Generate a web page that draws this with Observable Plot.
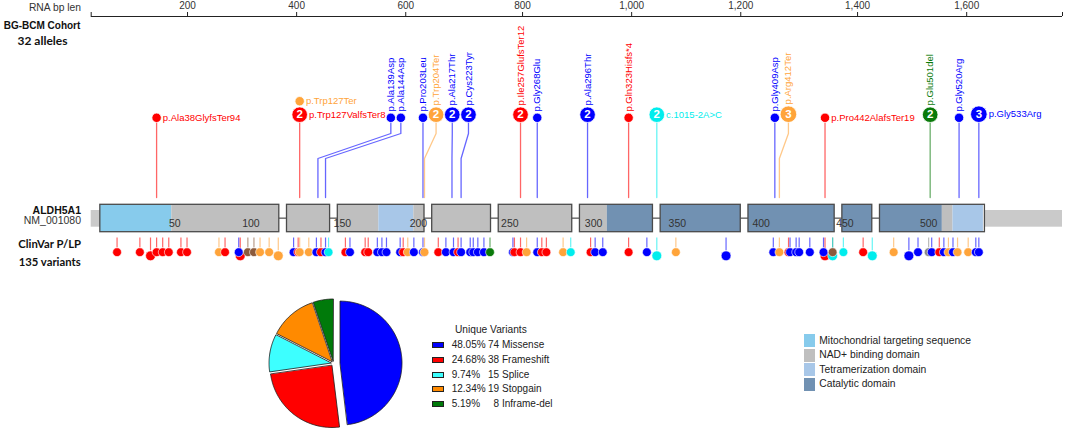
<!DOCTYPE html>
<html><head><meta charset="utf-8">
<script src="https://cdn.jsdelivr.net/npm/d3@7"></script>
<script src="https://cdn.jsdelivr.net/npm/@observablehq/plot@0.6"></script>
<style>
body{margin:0;background:#fff;font-family:Arial,"Liberation Sans",sans-serif;}
#wrap{position:relative;width:1065px;height:429px;overflow:hidden;background:#fff;}
#wrap > svg{position:absolute;left:0;top:0;}
.abs{position:absolute;white-space:nowrap;}
</style></head>
<body><div id="wrap"></div>
<script>
// ================= DATA =================
// exon ends in CDS coordinates (c.), 10 exons
const exonEnds = [353, 438, 609, 725, 870, 1014, 1172, 1342, 1401, 1608];
const utr5Len = 18, utr3Len = 153;      // drawn UTR lengths (bp)
const rnaOffset = 28;                    // RNA bp = c. + offset
const axisTicks = [200, 400, 600, 800, 1000, 1200, 1400, 1600];
const aaTicks = [50, 100, 150, 200, 250, 300, 350, 400, 450, 500];

// protein domains (aa)
const domainType  = ["Mitochondrial targeting sequence", "NAD+ binding domain", "Tetramerization domain", "NAD+ binding domain", "Catalytic domain", "NAD+ binding domain", "Tetramerization domain"];
const domainStart = [1, 48, 174, 197, 309, 509, 516];
const domainEnd   = [47, 173, 196, 308, 508, 515, 535];
const legendDomains = ["Mitochondrial targeting sequence", "NAD+ binding domain", "Tetramerization domain", "Catalytic domain"];

// BG-BCM cohort variants (32 alleles)
const cohortLabels = ["p.Ala38GlyfsTer94","p.Trp127Ter","p.Trp127ValfsTer8","p.Ala139Asp","p.Ala144Asp","p.Pro203Leu","p.Trp204Ter","p.Ala217Thr","p.Cys223Tyr","p.Ile257GlufsTer12","p.Gly268Glu","p.Ala296Thr","p.Gln323Hisfs*4","c.1015-2A>C","p.Gly409Asp","p.Arg412Ter","p.Pro442AlafsTer19","p.Glu501del","p.Gly520Arg","p.Gly533Arg"];
const cohortClass  = ["F","S","F","M","M","M","S","M","M","F","M","M","F","Sp","M","S","F","I","M","M"];
const cohortAlleles = [1,1,2,1,1,1,2,2,2,2,1,2,1,2,1,3,1,2,1,3];

// ClinVar P/LP variants
const clinvarPos = [12,27,34,38,42,46,54,58,79,83,92,93,98,102,106,112,118,
  123,126,127,133,138,141,144,146,
  152,155,165,167,173,176,179,188,190,193,197,203,204,
  208,213,218,221,223,229,231,234,238,242,
  252,253,257,261,268,271,274,285,290,
  298,301,306,323,335,"c.1015-2",
  349,382,
  408,412,418,419,423,425,432,441,442,447,447,
  449,462,468,
  477,487,493,500,502,507,510,513,516,519,526,531,533];
const clinvarClass = ["F","F","F","F","F","F","F","F","S","F","M","F","O","O","S","S","S",
  "M","F","S","S","M","F","M","Sp",
  "F","M","F","F","M","M","M","M","F","S","M","M","S",
  "F","M","M","F","M","M","M","M","M","I",
  "M","F","F","S","M","F","F","S","Sp",
  "F","M","M","F","M","Sp",
  "S","M",
  "M","S","F","M","M","M","M","M","F","O","Sp",
  "Sp","F","Sp",
  "S","M","M","U","M","F","M","S","M","S","S","M","M"];
const clinvarCount = clinvarPos.map(p => [34,93,118,"c.1015-2",382,468,487].includes(p) ? 2 : 1);
clinvarCount[clinvarPos.lastIndexOf(447)] = 2;
clinvarCount[clinvarPos.indexOf(442)] = 2;

// Unique variants pie
const pieTypes  = ["Missense", "Frameshift", "Splice", "Stopgain", "Inframe-del"];
const pieCounts = [74, 38, 15, 19, 8];

// ================= STYLE / LAYOUT =================
const classColor = {M:"#0000ff", F:"#ff0000", Sp:"#00eded", S:"#ffa43a", I:"#0a7a0a", O:"#8b5a3c", U:"#8a8a8a"};
const pieColor = {"Missense":"#0000ff","Frameshift":"#ff0000","Splice":"#3dffff","Stopgain":"#ff8a00","Inframe-del":"#007a0a"};
const domainColor = {"Mitochondrial targeting sequence":"#87cbec","NAD+ binding domain":"#bfbfbf","Tetramerization domain":"#a8c7e8","Catalytic domain":"#7191b2"};
const G = 15.2; // visual gap between exon boxes, in bp units
const Y = {axis:16, tickTop:12, tickLbl:5, headBottom:122, elbowTop:133, elbowBottom:158, stemEnd:197,
  barTop:204.3, barBottom:231.7, utrTop:210, utrBottom:226.7, intron:217.7, aaLbl:223.5,
  cvStemTop:237.5, cvY1:251.7, cvY2:255.3};
const LABEL_FS = 9.5;
const FONT = "Arial, 'Liberation Sans', sans-serif";
const HUM = "Lato, 'Open Sans', sans-serif";

// ================= COORDINATES =================
const exonStarts = exonEnds.map((e,i) => i === 0 ? 1 : exonEnds[i-1] + 1);
function exonIndex(c){ for (let i = 0; i < exonEnds.length; i++) if (c <= exonEnds[i]) return i; return exonEnds.length - 1; }
function disp(c){ return c + exonIndex(c) * G; }
function posOf(v){
  if (typeof v === "number") return disp((v - 1) * 3);
  const m = String(v).match(/c\.(\d+)-(\d+)/);
  const j = exonStarts.indexOf(+m[1]);
  return exonEnds[j-1] + (j-1) * G + G / 2;
}
const lastExon = exonEnds.length - 1;
const xDomain = [-utr5Len, exonEnds[lastExon] + lastExon * G + utr3Len];
const xRange = [90.7, 1062];
const xs = d3.scaleLinear().domain(xDomain).range(xRange);

// exon boxes, introns, domain segments
const exons = exonEnds.map((e,i) => ({x1: exonStarts[i] - 1 + i*G, x2: e + i*G}));
const introns = exonEnds.slice(0, -1).map((e,i) => ({x1: e + i*G, x2: e + (i+1)*G}));
const segs = [];
domainType.forEach((t,k) => {
  const lo = (domainStart[k]-1)*3, hi = domainEnd[k]*3;
  exonEnds.forEach((e,i) => {
    const a = Math.max(lo, exonStarts[i]-1), b = Math.min(hi, e);
    if (b > a) segs.push({t, x1: a + i*G, x2: b + i*G});
  });
});
const utrs = [{x1: xDomain[0], x2: 0}, {x1: exons[lastExon].x2, x2: xDomain[1]}];

// ================= COHORT LAYOUT =================
const ctx = document.createElement("canvas").getContext("2d");
ctx.font = `${LABEL_FS}px Arial`;
const tw = s => ctx.measureText(s).width;
const radius = n => n === 1 ? 4.7 : n === 2 ? 7.8 : 8.3;
const horizontal = new Set(["p.Ala38GlyfsTer94","p.Trp127Ter","p.Trp127ValfsTer8","c.1015-2A>C","p.Pro442AlafsTer19","p.Gly533Arg"]);

const cohort = cohortLabels.map((label,i) => {
  const m = label.match(/^p\.[A-Za-z]{3}(\d+)/);
  return {label, cls: cohortClass[i], n: cohortAlleles[i], r: radius(cohortAlleles[i]),
          d: m ? posOf(+m[1]) : posOf(label), key: m ? +m[1] : label};
});
const groups = Array.from(d3.group(cohort, d => d.key).values())
  .map(items => ({items: items.sort((a,b) => b.n - a.n), d: items[0].d}))
  .sort((a,b) => a.d - b.d);
let prevRight = -Infinity;
const heads = [], hLabels = [], vLabels = [], stems = [];
groups.forEach((g, gi) => {
  const tx = xs(g.d);
  const R = d3.max(g.items, d => d.r);
  const px = Math.max(tx, prevRight + R + 0.6);
  let top = Y.headBottom, right = px + R;
  g.items.forEach((it, k) => {
    it.cy = k === 0 ? Y.headBottom - it.r : top - 1 - it.r;
    top = it.cy - it.r;
    it.dx = xs.invert(px);
    heads.push(it);
    if (horizontal.has(it.label)) {
      const lx = px + it.r + 1.5;
      hLabels.push({...it, lxd: xs.invert(lx)});
      right = Math.max(right, lx + tw(it.label));
    } else {
      vLabels.push({...it, ly: it.cy - it.r - 1.5});
    }
  });
  const b = g.items[0];
  [[px, Y.headBottom],[px, Y.elbowTop],[tx, Y.elbowBottom],[tx, Y.stemEnd]]
    .forEach(([x,y]) => stems.push({id: gi, cls: b.cls, x: xs.invert(x), y}));
  prevRight = right;
});

// ================= CLINVAR =================
const clinvar = clinvarPos.map((p,i) => ({d: posOf(p), cls: clinvarClass[i], n: clinvarCount[i]}))
  .map(v => ({...v, cy: v.n > 1 ? Y.cvY2 : Y.cvY1, r: v.n > 1 ? 4.9 : 4.4}))
  .sort((a,b) => a.n - b.n);

// ================= MAIN PLOT =================
const tickD = axisTicks.map(t => disp(t - rnaOffset));

const main = Plot.plot({
  width: 1065, height: 280, margin: 0,
  x: {domain: xDomain, range: xRange, axis: null},
  y: {type: "identity"},
  r: {type: "identity"},
  color: {type: "identity"},
  style: {fontFamily: FONT, background: "transparent"},
  marks: [
    // top axis
    Plot.ruleY([Y.axis], {x1: xDomain[0], x2: xDomain[1], stroke: "#222", strokeWidth: 1}),
    Plot.ruleX([...tickD, ...xDomain], {y1: Y.tickTop, y2: Y.axis, stroke: "#222", strokeWidth: 1}),
    Plot.text(tickD, {x: d => d, y: Y.tickLbl, text: (d,i) => d3.format(",")(axisTicks[i]), fontSize: 10, fill: "#333"}),
    // gene bar
    Plot.rect(utrs, {x1: "x1", x2: "x2", y1: Y.utrTop, y2: Y.utrBottom, fill: "#cacaca"}),
    Plot.ruleY(introns, {x1: "x1", x2: "x2", y: Y.intron, stroke: "#7a7a7a", strokeWidth: 1.6}),
    Plot.rect(segs, {x1: "x1", x2: "x2", y1: Y.barTop, y2: Y.barBottom, fill: d => domainColor[d.t]}),
    Plot.rect(exons, {x1: "x1", x2: "x2", y1: Y.barTop, y2: Y.barBottom, fill: "none", stroke: "#4a4a4a", strokeWidth: 1.3}),
    Plot.text(aaTicks, {x: a => disp((a-1)*3), y: Y.aaLbl, text: a => String(a), fontSize: 10.5, fill: "#333"}),
    // cohort lollipops
    Plot.line(stems, {x: "x", y: "y", z: "id", stroke: d => classColor[d.cls], strokeOpacity: 0.6, strokeWidth: 1.3}),
    Plot.dot(heads, {x: "dx", y: "cy", r: "r", fill: d => classColor[d.cls], stroke: "white", strokeWidth: 0.8}),
    Plot.text(heads.filter(d => d.n > 1), {x: "dx", y: "cy", text: d => String(d.n), fill: "white", fontSize: 11.5, fontWeight: "bold"}),
    Plot.text(hLabels, {x: "lxd", y: "cy", text: "label", textAnchor: "start", fontSize: LABEL_FS, fill: d => classColor[d.cls]}),
    Plot.text(vLabels, {x: "dx", y: "ly", text: "label", rotate: -90, textAnchor: "start", fontSize: LABEL_FS, fill: d => classColor[d.cls]}),
    // clinvar lollipops
    Plot.ruleX(clinvar, {x: "d", y1: Y.cvStemTop, y2: d => d.cy - d.r, stroke: d => classColor[d.cls], strokeOpacity: 0.6, strokeWidth: 1.2}),
    Plot.dot(clinvar, {x: "d", y: "cy", r: "r", fill: d => classColor[d.cls], stroke: "white", strokeWidth: 0.6})
  ]
});
const wrap = document.getElementById("wrap");
wrap.appendChild(main);

// ================= PIE =================
const total = d3.sum(pieCounts);
const pieR = 62;
const piePts = [];
let a0 = 0;
pieTypes.forEach((t,i) => {
  const a1 = a0 + pieCounts[i] / total * 2 * Math.PI;
  const mid = (a0 + a1) / 2, off = i === 0 ? 6.5 : 2.5;
  const ox = off * Math.sin(mid), oy = off * Math.cos(mid);
  piePts.push({t, x: ox, y: oy});
  const steps = Math.max(2, Math.ceil((a1 - a0) / (Math.PI / 180)));
  for (let k = 0; k <= steps; k++) {
    const a = a0 + (a1 - a0) * k / steps;
    piePts.push({t, x: ox + pieR * Math.sin(a), y: oy + pieR * Math.cos(a)});
  }
  a0 = a1;
});
const pie = Plot.plot({
  width: 150, height: 150, margin: 0,
  x: {domain: [-75, 75], axis: null}, y: {domain: [-75, 75], axis: null},
  color: {type: "identity"},
  style: {background: "transparent"},
  marks: [Plot.line(piePts, {x: "x", y: "y", z: "t", fill: d => pieColor[d.t], stroke: "#1a1a1a", strokeWidth: 0.8, curve: "linear-closed"})]
});
pie.style.position = "absolute"; pie.style.left = "258px"; pie.style.top = "287.5px";
wrap.appendChild(pie);

// ================= HTML TEXT: side labels & legends =================
function addDiv(html, css){ const d = document.createElement("div"); d.className = "abs"; d.textContent = html; Object.assign(d.style, css); wrap.appendChild(d); return d; }
// side labels: [text, left, width, align, centerY, size, weight, color, family]
const sideLabels = [
  ["RNA bp len",    2, 79, "right",  7.5, 10.3, "normal", "#333", FONT],
  ["BG-BCM Cohort", 2, 80, "center", 26,  10,   "bold",   "#111", FONT],
  ["32 alleles",    2, 81, "center", 41,  12,   "bold",   "#111", HUM],
  ["ALDH5A1",       2, 79, "right",  210, 10.5, "bold",   "#111", FONT],
  ["NM_001080",     2, 79, "right",  220, 10.5, "normal", "#333", FONT],
  ["ClinVar P/LP",  8, 83.4, "center", 244, 11.3, "bold", "#111", HUM],
  ["135 variants",  8, 83.4, "center", 262, 11.3, "bold", "#111", HUM]
];
sideLabels.forEach(([t, left, w, align, yc, fs, fw, col, ff]) =>
  addDiv(t, {left: left + "px", width: w + "px", textAlign: align, top: (yc - 7) + "px", lineHeight: "14px",
             fontSize: fs + "px", fontWeight: fw, color: col, fontFamily: ff}));

const LF = "10px";
addDiv("Unique Variants", {left: "455px", top: "322.5px", fontSize: "10.2px", lineHeight: "14px", color: "#222"});
pieTypes.forEach((t,i) => {
  const yc = 345 + i * 14.75;
  addDiv("", {left: "431.7px", top: (yc - 3) + "px", width: "12.6px", height: "6px", background: pieColor[t], border: "1px solid #222", boxSizing: "border-box"});
  addDiv(d3.format(".2%")(pieCounts[i] / total), {left: "451.7px", top: (yc - 7) + "px", fontSize: LF, lineHeight: "14px", color: "#222"});
  addDiv(String(pieCounts[i]), {left: "477px", width: "22px", textAlign: "right", top: (yc - 7) + "px", fontSize: LF, lineHeight: "14px", color: "#222"});
  addDiv(t, {left: "502px", top: (yc - 7) + "px", fontSize: LF, lineHeight: "14px", color: "#222"});
});
legendDomains.forEach((t,i) => {
  const top = 334 + i * 14.6;
  addDiv("", {left: "804px", top: top + "px", width: "11px", height: "13px", background: domainColor[t]});
  addDiv(t, {left: "819.3px", top: (top - 0.5) + "px", fontSize: "10.3px", lineHeight: "14px", color: "#222"});
});
</script>
</body></html>
